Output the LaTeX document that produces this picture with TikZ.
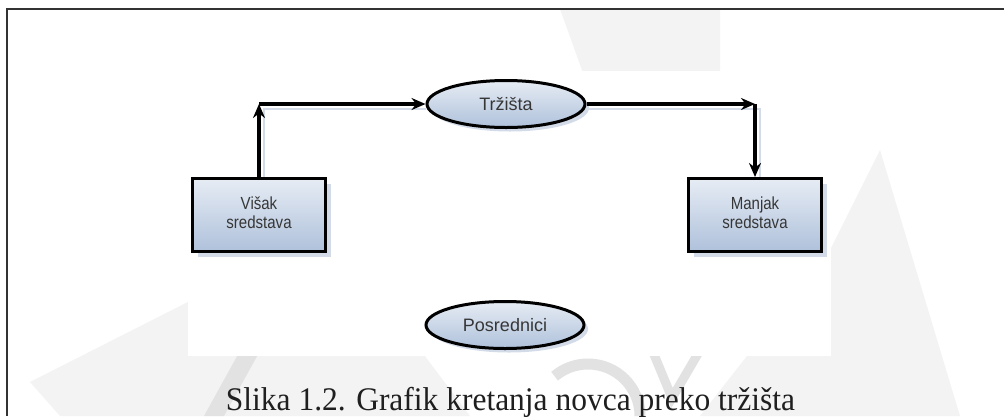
\documentclass[tikz,border=0pt]{standalone}
\usepackage{fontspec}
\setmainfont{Liberation Serif}
\newfontfamily\diagfont{Liberation Sans}
\usetikzlibrary{shapes.geometric,arrows.meta,shadows}
\definecolor{frameC}{HTML}{333333}
\definecolor{fillTop}{HTML}{E6ECF4}
\definecolor{fillBot}{HTML}{AFC1DB}
\definecolor{shadowC}{HTML}{D3DBE8}
\definecolor{wm}{HTML}{F3F3F3}
\definecolor{wmdark}{HTML}{E2E2E2}
\definecolor{txtC}{HTML}{363636}
\newcommand{\narrowlines}[1]{\scalebox{0.86}[1]{\begin{tabular}{@{}c@{}}#1\end{tabular}}}
\begin{document}
\begin{tikzpicture}[x=1pt,y=-1pt,
  blockbox/.style={draw=black, line width=3pt, top color=fillTop, bottom color=fillBot,
    minimum width=133pt, minimum height=73pt, inner sep=0pt, align=center,
    font=\diagfont\fontsize{17.5}{19}\selectfont, text=txtC,
    drop shadow={shadow xshift=5pt, shadow yshift=-5pt, fill=shadowC, opacity=1}},
  ovalnode/.style={ellipse, draw=black, line width=3pt, top color=fillTop, bottom color=fillBot,
    minimum width=158pt, minimum height=47pt, inner sep=0pt,
    font=\diagfont\fontsize{18}{20}\selectfont, text=txtC,
    drop shadow={shadow xshift=4pt, shadow yshift=-4pt, fill=shadowC, opacity=1}},
  flow/.style={line width=3.2pt, -{Stealth[length=14pt,width=12pt]}},
  flowshadow/.style={draw=shadowC, line width=2.5pt},
  framestroke/.style={draw=frameC, line width=2pt},
]
\useasboundingbox (0,0) rectangle (1004,416);
\fill[white] (0,0) rectangle (1004,416);
% faint watermark background
\fill[wm] (30,382) -- (330,230) -- (470,416) -- (60,416) -- cycle;
\fill[wm] (830,250) -- (880,150) -- (960,416) -- (700,416) -- cycle;
\fill[wm] (560,9) -- (720,9) -- (720,120) -- (600,120) -- cycle;
\fill[wmdark] (246,340) -- (266,340) -- (224,416) -- (204,416) -- cycle;
\draw[wmdark, line width=11pt] (640,416) arc[start angle=0, end angle=-130, radius=52];
\draw[wmdark, line width=9pt] (648,340) -- (672,398) -- (706,340);
\fill[white] (188,71) rectangle (831,356);
% frame
\draw[framestroke] (1004,9) -- (7,9) -- (7,416);
% nodes
\node[ovalnode] (trz) at (506,104) {Tržišta};
\node[ovalnode] (pos) at (505,325) {Posrednici};
\node[blockbox] (visak) at (259,215) {\narrowlines{Višak\\sredstava}};
\node[blockbox] (manjak) at (755,215) {\narrowlines{Manjak\\sredstava}};
\coordinate (c1) at (259,104);
\coordinate (c2) at (755,104);
% connector shadows
\draw[flowshadow] ([shift={(5,0)}]visak.north) -- ([shift={(5,5)}]c1) -- ([shift={(0,5)}]trz.west);
\draw[flowshadow] ([shift={(0,5)}]trz.east) -- ([shift={(5,5)}]c2) -- ([shift={(5,0)}]manjak.north);
% connectors
\draw[flow, line width=4.2pt] (visak.north) -- (c1);
\draw[flow] (c1) -- (trz.west);
\draw[flow] (trz.east) -- (c2);
\draw[flow] (c2) -- (manjak.north);
% caption
\node[anchor=base, inner sep=0pt, text=black!88] (cap) at (510.5,410)
  {\resizebox{569pt}{\height}{\fontsize{33}{36}\selectfont Slika 1.2. Grafik kretanja novca preko tržišta}};
\end{tikzpicture}
\end{document}
